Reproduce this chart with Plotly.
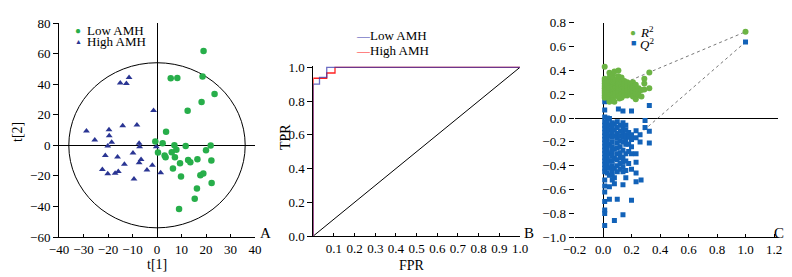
import plotly.graph_objects as go

# ---------------- Panel A data (score plot) ----------------
low_t1 = [19.0, 5.6, 8.3, 18.6, 23.5, 18.2, 12.5, 3.7, -0.7, 2.3, 7.1, 11.7, 21.9, 0.4, 6.0, 7.9,
          3.1, 3.5, 7.3, 12.7, 13.6, 16.5, 20.0, 22.2, 9.4, 6.5, 9.8, 17.7, 18.9, 22.3, 16.3, 15.4, 9.0]
low_t2 = [61.7, 43.9, 44.1, 45.0, 33.5, 28.3, 22.6, 8.9, 2.4, 1.3, 0.0, -0.4, -0.2, -4.8, -4.6, -3.0,
          -6.7, -7.8, -7.8, -9.6, -11.1, -9.1, -3.3, -10.0, -11.7, -15.2, -20.4, -19.6, -18.5, -24.6, -28.3, -35.0, -41.7]
high_t1 = [-15.0, -12.5, -11.4, -1.4, -28.8, -19.6, -19.5, -14.0, -8.2, -25.4, -18.5, -20.1, -7.3, -7.1, -0.3,
           -21.1, -16.1, -9.8, -13.3, -6.5, -7.3, -4.1, -1.9, 1.5, -22.3, -20.1, -17.1, -15.8, -9.4]
high_t2 = [40.7, 40.4, 44.3, 22.8, 9.3, 10.2, 6.3, 12.8, 13.3, 3.5, 2.0, -0.4, 1.3, -0.9, -0.9,
           -6.7, -7.6, -5.0, -12.4, -9.3, -11.5, -16.1, -13.0, -18.0, -15.9, -18.7, -18.3, -17.2, -22.0]
ellipse_rx = 36
ellipse_ry = 54
a_xticks = [-40, -30, -20, -10, 0, 10, 20, 30, 40]
a_yticks = [-60, -40, -20, 0, 20, 40, 60, 80]

# ---------------- Panel B data (ROC) ----------------
low_fpr = [0, 0, 0.03, 0.03, 0.065, 0.065, 1.0]
low_tpr = [0, 0.90, 0.90, 0.94, 0.94, 1.0, 1.0]
high_fpr = [0, 0, 0.065, 0.065, 0.105, 0.105, 1.0]
high_tpr = [0, 0.935, 0.935, 0.966, 0.966, 1.0, 1.0]
diag_fpr = [0, 1]
diag_tpr = [0, 1]
b_xticks = [0.1, 0.2, 0.3, 0.4, 0.5, 0.6, 0.7, 0.8, 0.9, 1.0]
b_yticks = [0.0, 0.2, 0.4, 0.6, 0.8, 1.0]

# ---------------- Panel C data (permutation test) ----------------
r2_cols = [
    (0.012, [0.43, 0.33, 0.31, 0.29, 0.27, 0.25, 0.23, 0.21, 0.19, 0.17]),
    (0.03, [0.32, 0.30, 0.28, 0.26, 0.24, 0.22, 0.20, 0.18]),
    (0.045, [0.38, 0.34, 0.30, 0.27, 0.25, 0.23, 0.21, 0.19, 0.16, 0.137]),
    (0.07, [0.36, 0.33, 0.30, 0.28, 0.26, 0.24, 0.22, 0.20, 0.17, 0.15]),
    (0.08, [0.39, 0.137]),
    (0.09, [0.32, 0.29, 0.27, 0.25, 0.23, 0.21, 0.19]),
    (0.108, [0.40, 0.35, 0.31, 0.29, 0.27, 0.25, 0.23, 0.21, 0.18]),
    (0.115, [0.165]),
    (0.13, [0.34, 0.30, 0.28, 0.26, 0.24, 0.22, 0.20, 0.17]),
    (0.15, [0.31, 0.29, 0.27, 0.25, 0.23, 0.21, 0.19]),
    (0.17, [0.30, 0.27, 0.25, 0.23, 0.21, 0.19]),
    (0.19, [0.29, 0.26, 0.24, 0.22, 0.20]),
    (0.21, [0.30, 0.27, 0.25, 0.23, 0.21, 0.18]),
    (0.23, [0.28, 0.24, 0.22, 0.20, 0.157]),
    (0.25, [0.25, 0.22, 0.19]),
    (0.27, [0.235, 0.18]),
    (0.29, [0.33, 0.29, 0.24]),
    (0.325, [0.383, 0.25]),
]
q2_cols = [
    (0.012, [0.137, 0.067, 0.01, -0.03, -0.06, -0.09, -0.12, -0.15, -0.18, -0.21, -0.24, -0.27, -0.30,
             -0.33, -0.36, -0.39, -0.42, -0.45, -0.52, -0.57, -0.62, -0.70, -0.77, -0.80, -0.90]),
    (0.03, [0.0, -0.04, -0.08, -0.11, -0.14, -0.17, -0.20, -0.23, -0.26, -0.29, -0.32, -0.35, -0.38, -0.41, -0.46]),
    (0.045, [-0.003, -0.06, -0.10, -0.15, -0.22, -0.30, -0.36, -0.42, -0.48, -0.575, -0.68]),
    (0.065, [-0.04, -0.08, -0.12, -0.16, -0.20, -0.24, -0.28, -0.32, -0.36, -0.40, -0.44, -0.48, -0.52]),
    (0.08, [-0.05, -0.10, -0.15, -0.26, -0.34, -0.42, -0.50, -0.55, -0.86]),
    (0.10, [-0.03, -0.08, -0.13, -0.17, -0.21, -0.25, -0.30, -0.35, -0.40, -0.45, -0.68]),
    (0.108, [0.076]),
    (0.12, [-0.06, -0.11, -0.15, -0.19, -0.24, -0.29, -0.33, -0.38, -0.43]),
    (0.14, [0.059, -0.04, -0.08, -0.12, -0.16, -0.20, -0.27, -0.33, -0.37, -0.41, -0.45, -0.56, -0.81]),
    (0.16, [-0.06, -0.10, -0.14, -0.18, -0.22, -0.30, -0.36, -0.44, -0.50]),
    (0.18, [-0.12, -0.16, -0.22, -0.28, -0.38]),
    (0.20, [0.059, -0.14, -0.18, -0.24, -0.30, -0.43, -0.69]),
    (0.232, [-0.106, -0.165, -0.30, -0.37, -0.46, -0.535]),
    (0.26, [-0.14, -0.20]),
    (0.267, [-0.52]),
    (0.295, [-0.02, -0.08]),
    (0.325, [0.106, -0.11, -0.21]),
]
r2_orig = (1.0, 0.724)
q2_orig = (1.0, 0.638)
r2_intercept = 0.22
q2_intercept = -0.40
c_xticks = [-0.2, 0.0, 0.2, 0.4, 0.6, 0.8, 1.0, 1.2]
c_yticks = [-1.0, -0.8, -0.6, -0.4, -0.2, 0.0, 0.2, 0.4, 0.6, 0.8]

r2_x = [c[0] for c in r2_cols for _ in c[1]] + [r2_orig[0]]
r2_y = [v for c in r2_cols for v in c[1]] + [r2_orig[1]]
q2_x = [c[0] for c in q2_cols for _ in c[1]] + [q2_orig[0]]
q2_y = [v for c in q2_cols for v in c[1]] + [q2_orig[1]]

# ---------------- Styling ----------------
FONT = "Liberation Serif, Times New Roman, serif"
W, H = 792, 277
OX, OY = 8, 8  # page body margin offset of the html page
GREEN_A = "#27ae4a"
BLUE_A = "#2a3593"
BLUE_B = "#3c3cb0"
RED_B = "#ff2222"
GREEN_C = "#6cb444"
BLUE_C = "#1262b8"

fig = go.Figure()

# Panel A
fig.add_trace(go.Scatter(x=high_t1, y=high_t2, mode="markers", xaxis="x", yaxis="y",
                         marker=dict(symbol="triangle-up", size=6, color=BLUE_A), showlegend=False))
fig.add_trace(go.Scatter(x=low_t1, y=low_t2, mode="markers", xaxis="x", yaxis="y",
                         marker=dict(symbol="circle", size=6.5, color=GREEN_A), showlegend=False))

# Panel B
fig.add_trace(go.Scatter(x=diag_fpr, y=diag_tpr, mode="lines", xaxis="x2", yaxis="y2",
                         line=dict(color="black", width=1), showlegend=False))
fig.add_trace(go.Scatter(x=high_fpr, y=high_tpr, mode="lines", xaxis="x2", yaxis="y2",
                         line=dict(color=RED_B, width=1.3), showlegend=False))
fig.add_trace(go.Scatter(x=low_fpr, y=low_tpr, mode="lines", xaxis="x2", yaxis="y2",
                         line=dict(color=BLUE_B, width=1.3), opacity=0.75, showlegend=False))

# Panel C
fig.add_trace(go.Scatter(x=[0, r2_orig[0]], y=[r2_intercept, r2_orig[1]], mode="lines", xaxis="x3", yaxis="y3",
                         line=dict(color="#555555", width=0.8, dash="dot"), showlegend=False))
fig.add_trace(go.Scatter(x=[0, q2_orig[0]], y=[q2_intercept, q2_orig[1]], mode="lines", xaxis="x3", yaxis="y3",
                         line=dict(color="#555555", width=0.8, dash="dot"), showlegend=False))
fig.add_trace(go.Scatter(x=q2_x, y=q2_y, mode="markers", xaxis="x3", yaxis="y3",
                         marker=dict(symbol="square", size=5, color=BLUE_C), showlegend=False))
fig.add_trace(go.Scatter(x=r2_x, y=r2_y, mode="markers", xaxis="x3", yaxis="y3",
                         marker=dict(symbol="circle", size=6, color=GREEN_C), showlegend=False))

fig.add_shape(type="circle", xref="x", yref="y", x0=-ellipse_rx, x1=ellipse_rx, y0=-ellipse_ry, y1=ellipse_ry,
              line=dict(color="black", width=1), layer="below")


def dom_x(a, b):
    return [(a - OX) / W, (b - OX) / W]


def dom_y(top, bottom):
    return [1 - (bottom - OY) / H, 1 - (top - OY) / H]


base = dict(showgrid=False, linecolor="black", linewidth=1, tickcolor="black", tickwidth=1,
            automargin=False, tickfont=dict(family=FONT, size=13, color="black"))
xcommon = dict(ticks="inside", ticklen=3, **base)
ycommon = dict(ticks="outside", ticklen=5, **base)

fig.update_layout(
    template="none",
    width=W, height=H, margin=dict(l=0, r=0, t=0, b=0, autoexpand=False),
    paper_bgcolor="white", plot_bgcolor="white",
    font=dict(family=FONT, size=13, color="black"),
    showlegend=False,
    xaxis=dict(domain=dom_x(59, 255), range=[-40, 40], tickvals=a_xticks, showline=True,
               zeroline=True, zerolinecolor="black", zerolinewidth=1, anchor="y", **xcommon),
    yaxis=dict(domain=dom_y(23, 237), range=[-60, 80], tickvals=a_yticks, showline=True,
               zeroline=True, zerolinecolor="black", zerolinewidth=1, anchor="x", **ycommon),
    xaxis2=dict(domain=dom_x(313.3, 520), range=[0, 1.0], tickvals=b_xticks,
                ticktext=[f"{v:.1f}" for v in b_xticks], showline=True, zeroline=False, anchor="y2",
                **xcommon),
    yaxis2=dict(domain=dom_y(65.6, 236), range=[0, 1.01], tickvals=b_yticks,
                ticktext=[f"{v:.1f}" for v in b_yticks], showline=True, zeroline=False, anchor="x2",
                **ycommon),
    xaxis3=dict(domain=dom_x(574.5, 778.3), range=[-0.2, 1.23], tickvals=c_xticks, tickformat=".1f",
                showline=True, zeroline=True, zerolinecolor="black", zerolinewidth=1, anchor="y3",
                **xcommon),
    yaxis3=dict(domain=dom_y(22.7, 237.3), range=[-1.0, 0.8], tickvals=c_yticks, tickformat=".1f",
                showline=False, zeroline=True, zerolinecolor="black", zerolinewidth=1, anchor="x3",
                **ycommon),
)


def ann(text, px, py, xanchor="center", yanchor="middle", size=13, angle=0):
    fig.add_annotation(text=text, x=(px - OX) / W, y=1 - (py - OY) / H, xref="paper", yref="paper",
                       xanchor=xanchor, yanchor=yanchor, showarrow=False, textangle=angle,
                       font=dict(family=FONT, size=size, color="black"))


# axis titles
ann("t[1]", 157, 264, size=14)
ann("t[2]", 18, 132, size=14, angle=-90)
ann("FPR", 412, 265, size=14)
ann("TPR", 285, 137, size=14, angle=-90)
# panel letters
ann("A", 258, 233, xanchor="left", size=15)
ann("B", 522, 233, xanchor="left", size=15)
ann("C", 772, 233, xanchor="left", size=15)

# legends
ann(f"<span style='color:{GREEN_A}'>●</span>", 78, 30, size=10)
ann("Low AMH", 85, 30, xanchor="left")
ann(f"<span style='color:{BLUE_A}'>▲</span>", 78, 42, size=7)
ann("High AMH", 85, 42, xanchor="left")

ann(f"<span style='color:{BLUE_B}'>—</span>Low AMH", 354, 36, xanchor="left")
ann(f"<span style='color:{RED_B}'>—</span>High AMH", 354, 51, xanchor="left")

ann(f"<span style='color:{GREEN_C}'>●</span>", 633, 33, size=10)
ann("<i>R</i><sup>2</sup>", 638, 32, xanchor="left")
ann(f"<span style='color:{BLUE_C}'>■</span>", 633, 43, size=9)
ann("<i>Q</i><sup>2</sup>", 638, 44, xanchor="left")

fig.write_html("out.html")
